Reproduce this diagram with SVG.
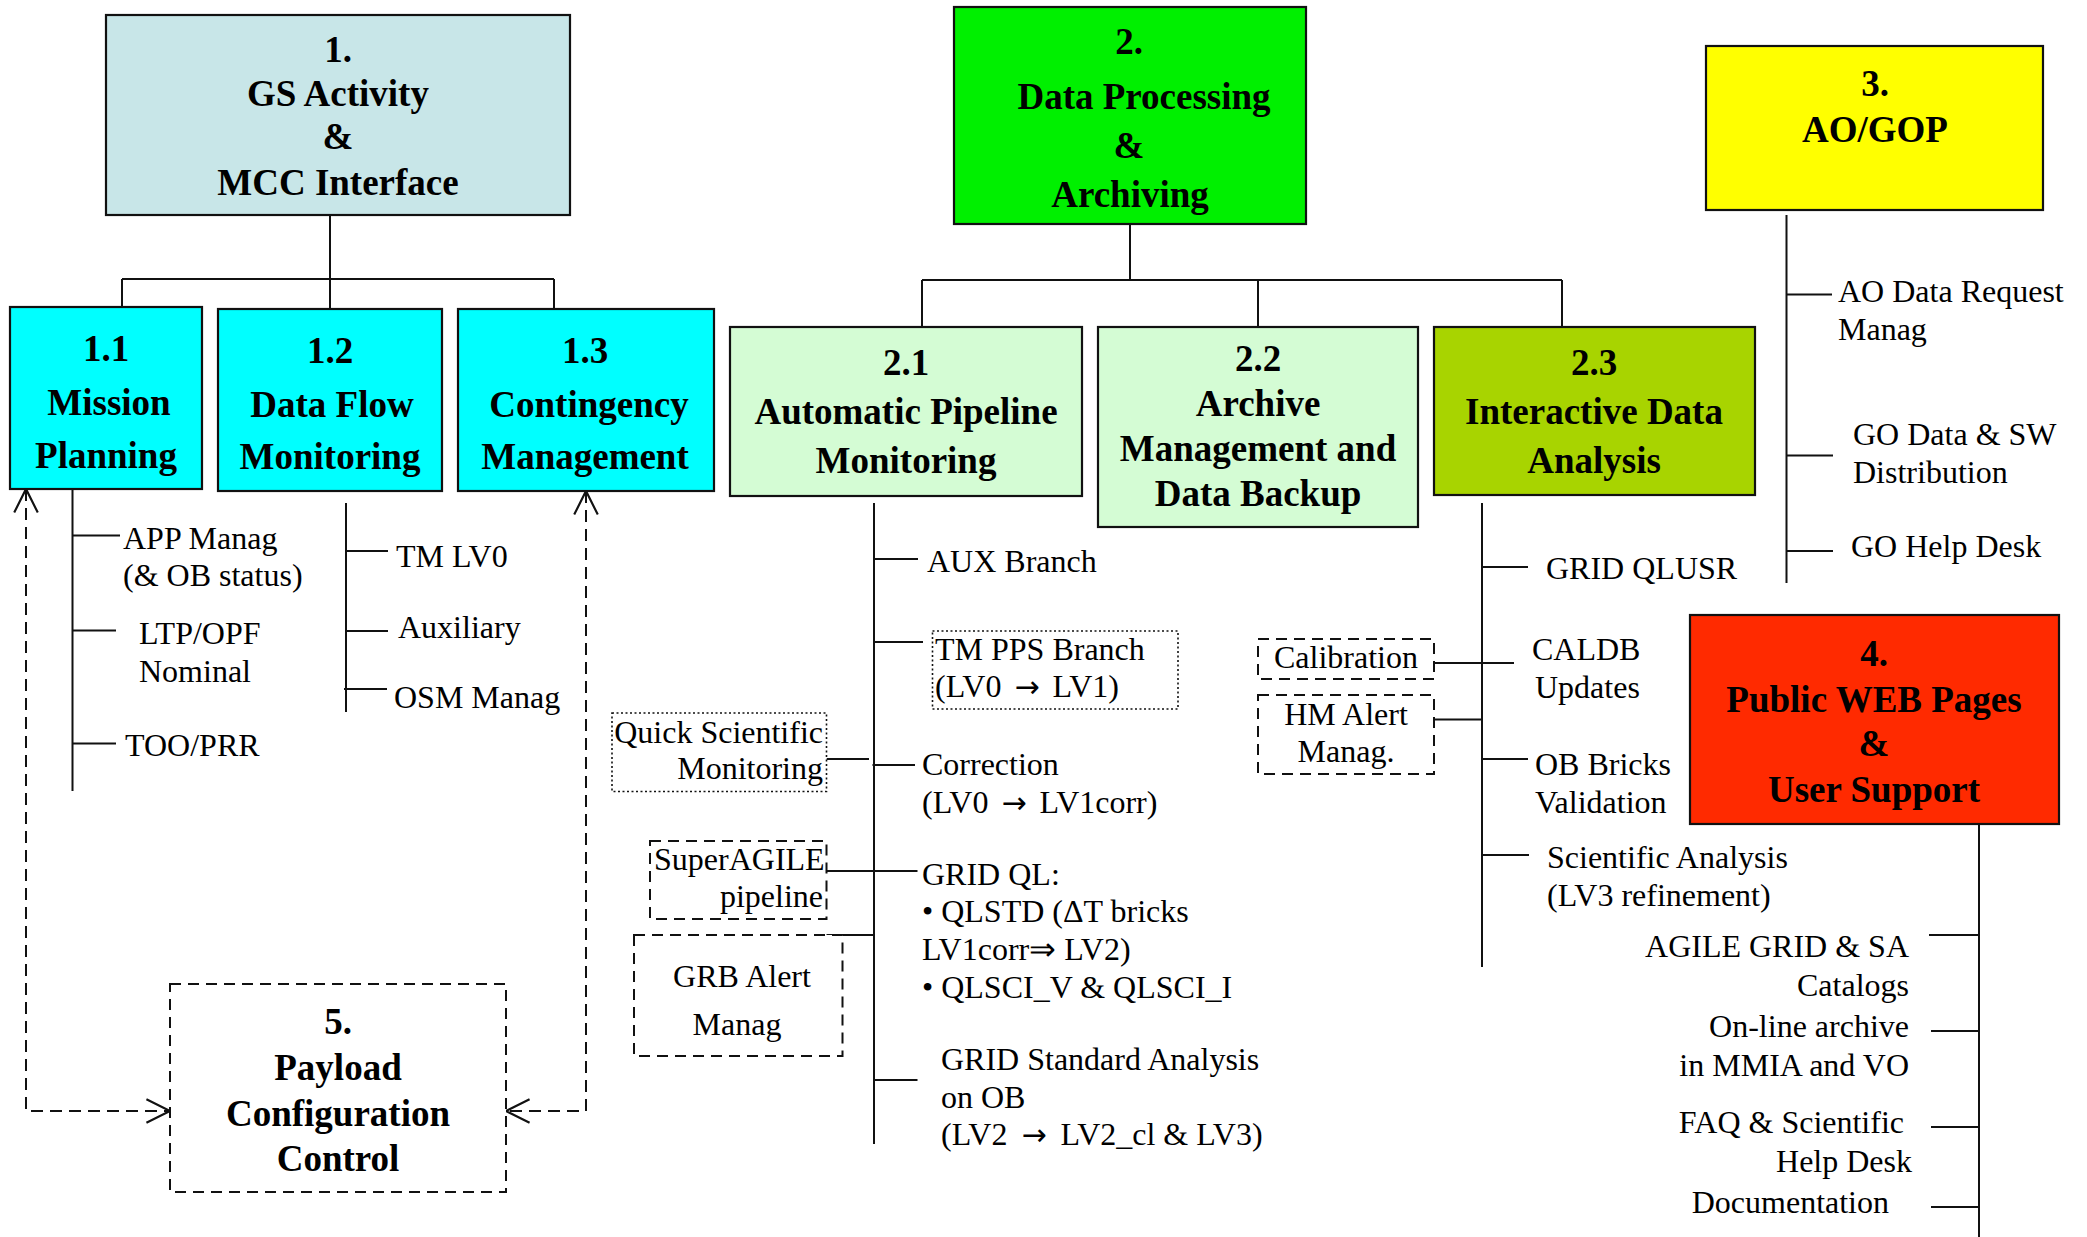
<svg xmlns="http://www.w3.org/2000/svg" width="2087" height="1237" viewBox="0 0 2087 1237">
<defs>
<style>
.box{stroke:#111;stroke-width:2.2}
.h{font-family:"Liberation Serif","Times New Roman",serif;font-weight:bold;font-size:37px;fill:#000;text-anchor:middle}
.t{font-family:"Liberation Serif","Times New Roman",serif;font-size:32px;fill:#000}
.ar{font-family:"DejaVu Sans",sans-serif;font-size:30px}
.e{text-anchor:end}
.m{text-anchor:middle}
.ln{fill:none;stroke:#111;stroke-width:2}
.dash{fill:none;stroke:#111;stroke-width:2;stroke-dasharray:12,7}
.dashb{fill:#fff;stroke:#111;stroke-width:2;stroke-dasharray:11,7}
.dot{fill:#fff;stroke:#111;stroke-width:1.6;stroke-dasharray:2,2.5}
</style>
<marker id="open" markerUnits="userSpaceOnUse" markerWidth="30" markerHeight="30" viewBox="-24 -14 28 28" refX="0" refY="0" orient="auto-start-reverse">
<path d="M-22,-11 L0,0 L-22,11" fill="none" stroke="#111" stroke-width="2"/>
</marker>
</defs>
<rect width="2087" height="1237" fill="#fff"/>

<g id="connectors">
<path class="ln" d="M330,215 V279 M122,279 H554 M122,279 V307 M330,279 V309 M554,279 V309"/>
<path class="ln" d="M1130,215 V280 M922,280 H1562 M922,280 V327 M1258,280 V327 M1562,280 V327"/>
<path class="ln" d="M72.5,489 V791 M72.5,535.5 H120 M72.5,630.6 H116 M72.5,743.6 H116"/>
<path class="ln" d="M346,503 V712 M346,551 H388 M346,631 H388 M344,689 H387"/>
<path class="ln" d="M874,503 V1144 M874,559 H918 M874,642 H923 M826.5,759 H869 M872.5,765 H915 M826.5,871 H917.5 M826.5,935 H874 M874,1080 H917.5"/>
<path class="ln" d="M1482,503 V967 M1482,567 H1528 M1434,663 H1514 M1434,719.5 H1482 M1482,759 H1528 M1482,855 H1529"/>
<path class="ln" d="M1786.5,215 V583 M1786.5,294.6 H1832 M1786.5,455.5 H1833 M1786.5,551 H1833"/>
<path class="ln" d="M1979,824 V1237 M1929,935 H1979 M1931,1031 H1979 M1931,1127 H1979 M1931,1207 H1979"/>
<path class="dash" d="M26,489 V1111 H170" marker-start="url(#open)" marker-end="url(#open)"/>
<path class="dash" d="M586,491 V1111 H506" marker-start="url(#open)" marker-end="url(#open)"/>
</g>

<g id="n1">
<rect class="box" x="106" y="15" width="464" height="200" fill="#C8E6E8"/>
<text class="h" x="338" y="62">1.</text>
<text class="h" x="338" y="106">GS Activity</text>
<text class="h" x="338" y="149">&amp;</text>
<text class="h" x="338" y="195">MCC Interface</text>
</g>
<g id="n11">
<rect class="box" x="10" y="307" width="192" height="182" fill="#00FFFF"/>
<text class="h" x="106" y="361">1.1</text>
<text class="h" x="109" y="415">Mission</text>
<text class="h" x="106" y="468">Planning</text>
</g>
<g id="n12">
<rect class="box" x="218" y="309" width="224" height="182" fill="#00FFFF"/>
<text class="h" x="330" y="363">1.2</text>
<text class="h" x="332" y="417">Data Flow</text>
<text class="h" x="330" y="469">Monitoring</text>
</g>
<g id="n13">
<rect class="box" x="458" y="309" width="256" height="182" fill="#00FFFF"/>
<text class="h" x="585" y="363">1.3</text>
<text class="h" x="589" y="417">Contingency</text>
<text class="h" x="585" y="469">Management</text>
</g>
<g id="n11list">
<text class="t" x="123" y="549">APP Manag</text>
<text class="t" x="123" y="586">(&amp; OB status)</text>
<text class="t" x="139" y="644">LTP/OPF</text>
<text class="t" x="139" y="682">Nominal</text>
<text class="t" x="125" y="756">TOO/PRR</text>
</g>
<g id="n12list">
<text class="t" x="396" y="567">TM LV0</text>
<text class="t" x="398" y="638">Auxiliary</text>
<text class="t" x="394" y="708">OSM Manag</text>
</g>
<g id="n5">
<rect class="dashb" x="170" y="984" width="336" height="208"/>
<text class="h" x="338" y="1034">5.</text>
<text class="h" x="338" y="1080">Payload</text>
<text class="h" x="338" y="1126">Configuration</text>
<text class="h" x="338" y="1171">Control</text>
</g>

<g id="n2">
<rect class="box" x="954" y="7" width="352" height="217" fill="#00F000"/>
<text class="h" x="1129" y="54">2.</text>
<text class="h" x="1144" y="109">Data Processing</text>
<text class="h" x="1129" y="158">&amp;</text>
<text class="h" x="1130" y="207">Archiving</text>
</g>
<g id="n21">
<rect class="box" x="730" y="327" width="352" height="169" fill="#D4FCD4"/>
<text class="h" x="906" y="375">2.1</text>
<text class="h" x="906" y="424">Automatic Pipeline</text>
<text class="h" x="906" y="473">Monitoring</text>
</g>
<g id="n22">
<rect class="box" x="1098" y="327" width="320" height="200" fill="#D4FCD4"/>
<text class="h" x="1258" y="371">2.2</text>
<text class="h" x="1258" y="416">Archive</text>
<text class="h" x="1258" y="461">Management and</text>
<text class="h" x="1258" y="506">Data Backup</text>
</g>
<g id="n23">
<rect class="box" x="1434" y="327" width="321" height="168" fill="#A8D400"/>
<text class="h" x="1594" y="375">2.3</text>
<text class="h" x="1594" y="424">Interactive Data</text>
<text class="h" x="1594" y="473">Analysis</text>
</g>
<g id="n21list">
<text class="t" x="927" y="572">AUX Branch</text>
<rect class="dot" x="932.5" y="631" width="245.5" height="78"/>
<text class="t" x="935" y="660">TM PPS Branch</text>
<text class="t" x="935" y="697">(LV0 <tspan class="ar" dx="5">→</tspan><tspan dx="5"> LV1)</tspan></text>
<rect class="dot" x="612" y="713" width="214.5" height="78.5"/>
<text class="t e" x="823" y="743">Quick Scientific</text>
<text class="t e" x="823" y="779">Monitoring</text>
<text class="t" x="922" y="775">Correction</text>
<text class="t" x="922" y="813">(LV0 <tspan class="ar" dx="5">→</tspan><tspan dx="5"> LV1corr)</tspan></text>
<rect class="dashb" x="650" y="841" width="176.5" height="78"/>
<text class="t" x="654" y="870">SuperAGILE</text>
<text class="t e" x="823" y="907">pipeline</text>
<text class="t" x="922" y="885">GRID QL:</text>
<text class="t" x="922" y="922">• QLSTD (ΔT bricks</text>
<text class="t" x="922" y="960">LV1corr⇒ LV2)</text>
<text class="t" x="922" y="998">• QLSCI_V &amp; QLSCI_I</text>
<rect class="dashb" x="634" y="935" width="208.5" height="121"/>
<text class="t m" x="742" y="987">GRB Alert</text>
<text class="t m" x="737" y="1035">Manag</text>
<text class="t" x="941" y="1070">GRID Standard Analysis</text>
<text class="t" x="941" y="1108">on OB</text>
<text class="t" x="941" y="1145">(LV2 <tspan class="ar" dx="6">→</tspan><tspan dx="6"> LV2_cl &amp; LV3)</tspan></text>
</g>
<g id="n23list">
<text class="t" x="1546" y="579">GRID QLUSR</text>
<rect class="dashb" x="1258" y="639" width="176" height="40"/>
<text class="t m" x="1346" y="668">Calibration</text>
<rect class="dashb" x="1258" y="695" width="176" height="79"/>
<text class="t m" x="1346" y="725">HM Alert</text>
<text class="t m" x="1346" y="762">Manag.</text>
<text class="t" x="1532" y="660">CALDB</text>
<text class="t" x="1535" y="698">Updates</text>
<text class="t" x="1535" y="775">OB Bricks</text>
<text class="t" x="1535" y="813">Validation</text>
<text class="t" x="1547" y="868">Scientific Analysis</text>
<text class="t" x="1547" y="906">(LV3 refinement)</text>
</g>

<g id="n3">
<rect class="box" x="1706" y="46" width="337" height="164" fill="#FFFF00"/>
<text class="h" x="1875" y="96">3.</text>
<text class="h" x="1875" y="142">AO/GOP</text>
</g>
<g id="n3list">
<text class="t" x="1838" y="302">AO Data Request</text>
<text class="t" x="1838" y="340">Manag</text>
<text class="t" x="1853" y="445">GO Data &amp; SW</text>
<text class="t" x="1853" y="483">Distribution</text>
<text class="t" x="1851" y="557">GO Help Desk</text>
</g>

<g id="n4">
<rect class="box" x="1690" y="615" width="369" height="209" fill="#FF2A00"/>
<text class="h" x="1874" y="666">4.</text>
<text class="h" x="1874" y="712">Public WEB Pages</text>
<text class="h" x="1874" y="756">&amp;</text>
<text class="h" x="1874" y="802">User Support</text>
</g>
<g id="n4list">
<text class="t e" x="1909" y="957">AGILE GRID &amp; SA</text>
<text class="t e" x="1909" y="996">Catalogs</text>
<text class="t e" x="1909" y="1037">On-line archive</text>
<text class="t e" x="1909" y="1076">in MMIA and VO</text>
<text class="t e" x="1904" y="1133">FAQ &amp; Scientific</text>
<text class="t e" x="1912" y="1172">Help Desk</text>
<text class="t e" x="1889" y="1213">Documentation</text>
</g>
</svg>
